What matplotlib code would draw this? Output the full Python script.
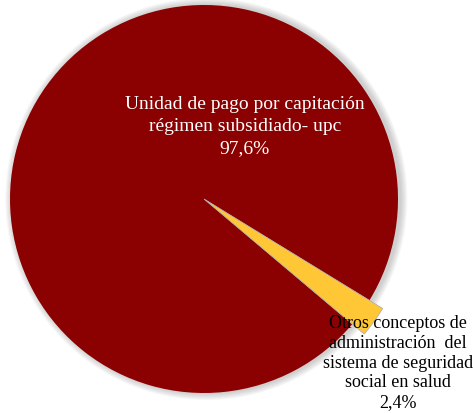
import matplotlib.pyplot as plt
from matplotlib.patches import Circle

labels = [
    "Unidad de pago por capitación\nrégimen subsidiado- upc",
    "Otros conceptos de\nadministración  del\nsistema de seguridad\nsocial en salud",
]
values = [97.6, 2.4]
colors = ["#8B0000", "#FFC735"]
text_colors = ["white", "black"]

plt.rcParams["font.family"] = ["Liberation Serif", "DejaVu Serif"]

fig = plt.figure(figsize=(4.73, 4.13), dpi=100)
ax = fig.add_axes([0, 0, 1, 1])

# soft outer shadow
for i in range(6):
    ax.add_patch(Circle((0.012, 0.0), 1.0 + 0.006 * (i + 1), color="grey",
                        alpha=0.07, lw=0, zorder=0))

wedges, _ = ax.pie(values, colors=colors, startangle=-31.5, counterclock=True,
                   wedgeprops={"linewidth": 0.6, "edgecolor": "#B0B0B0"})
wedges[0].set_edgecolor("none")
wedges[1].set_radius(1.08)
wedges[1].set_zorder(3)

pos = [(0.21, 0.375, "center"), (1.0, -1.092, "bottom")]
sizes = [14, 13]
spacing = [1.4, 1.2]
for lab, v, (x, y, va), c, s, ls in zip(labels, values, pos, text_colors, sizes, spacing):
    txt = lab + "\n" + ("%.1f%%" % v).replace(".", ",")
    ax.text(x, y, txt, ha="center", va=va, color=c, fontsize=s,
            linespacing=ls, zorder=5)

ax.set_aspect("auto")
ax.set_xlim(-204 / 194, 269 / 194)
ax.set_ylim(-214 / 194, 199 / 194)
ax.axis("off")

fig.savefig("out.png", dpi=100)
